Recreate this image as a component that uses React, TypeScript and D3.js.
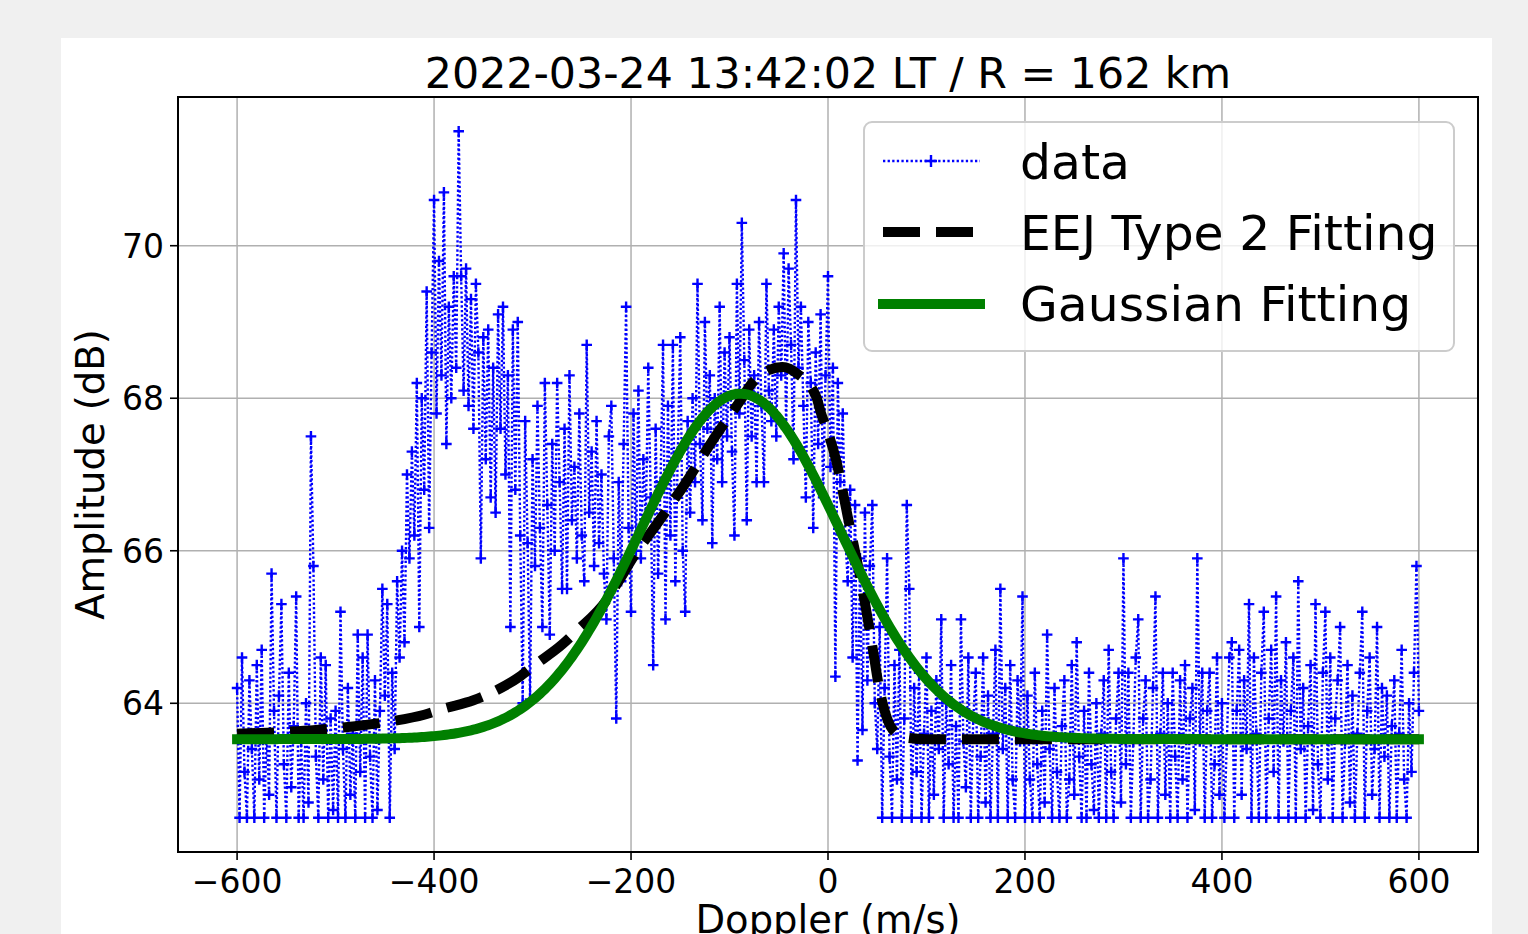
import React from "react";
import * as d3 from "d3";

const W = 1528;
const H = 934;

const titleText = "2022-03-24 13:42:02 LT / R = 162 km";
const xLabel = "Doppler (m/s)";
const yLabel = "Amplitude (dB)";
const legendLabels = ["data", "EEJ Type 2 Fitting", "Gaussian Fitting"];

const xTicks = [-600, -400, -200, 0, 200, 400, 600];
const yTicks = [64, 66, 68, 70];

const dopplerStart = -600;
const dopplerStep = 2.5;

// amplitude (dB) per Doppler bin, 100 m/s per segment
const ampM600 = [64.2, 62.5, 64.6, 63.1, 62.5, 64.3, 63.4, 62.5, 64.5, 63.0, 64.7, 62.5, 63.6, 62.8, 65.7, 63.9, 62.5, 64.1, 65.3, 63.2, 62.5, 64.4, 62.9, 63.7, 65.4, 62.5, 63.5, 62.5, 64.0, 62.7, 67.5, 65.8, 63.3, 62.5, 64.6, 63.0, 64.5, 62.5, 63.8, 62.6];
const ampM500 = [63.9, 62.5, 65.2, 63.4, 62.5, 64.2, 62.8, 63.6, 62.5, 64.9, 63.1, 64.6, 62.5, 64.9, 63.3, 62.5, 64.3, 62.6, 63.9, 65.5, 64.1, 65.3, 62.5, 64.4, 63.4, 65.6, 64.6, 66.0, 64.8, 67.0, 65.9, 67.3, 66.2, 68.2, 65.0, 68.0, 66.8, 69.4, 66.3, 68.6];
const ampM400 = [70.6, 67.8, 69.8, 68.3, 70.7, 67.4, 69.2, 68.0, 69.6, 68.4, 71.5, 69.6, 68.1, 69.7, 67.9, 69.3, 67.6, 69.5, 68.6, 65.9, 68.8, 67.2, 68.9, 66.7, 68.4, 66.5, 69.1, 67.6, 69.2, 67.0, 68.3, 65.0, 68.9, 66.8, 69.0, 66.2, 64.0, 67.7, 66.1, 64.05];
const ampM300 = [67.2, 65.8, 67.9, 66.3, 65.0, 68.2, 66.6, 64.9, 67.4, 66.0, 68.2, 66.9, 65.5, 67.6, 65.5, 68.3, 66.4, 67.1, 65.9, 67.8, 66.2, 65.6, 68.7, 66.5, 67.3, 65.8, 67.7, 66.1, 67.0, 65.7, 65.1, 67.5, 67.9, 65.9, 63.8, 66.9, 65.6, 67.4, 69.2, 66.3];
const ampM200 = [65.2, 67.8, 66.0, 68.1, 65.9, 67.2, 66.4, 68.4, 66.7, 64.5, 67.6, 65.7, 66.9, 68.7, 65.1, 67.9, 66.2, 68.7, 65.6, 67.3, 68.8, 66.0, 65.2, 67.7, 66.5, 68.0, 66.9, 69.5, 67.4, 66.4, 69.0, 67.6, 68.3, 66.1, 68.0, 67.2, 69.2, 66.9, 68.6, 67.5];
const ampM100 = [68.8, 67.3, 66.2, 69.5, 67.8, 70.3, 68.5, 66.4, 68.9, 67.5, 68.3, 66.9, 69.0, 67.9, 66.9, 69.5, 68.1, 67.7, 68.9, 67.5, 69.2, 68.3, 69.9, 67.6, 69.7, 68.7, 67.2, 70.6, 68.4, 69.2, 67.9, 66.7, 69.0, 68.2, 66.3, 68.6, 67.4, 69.1, 66.7, 68.3];
const ampP000 = [69.6, 67.1, 68.4, 64.35, 68.2, 66.9, 67.8, 66.2, 65.6, 66.8, 64.6, 66.6, 63.25, 65.9, 63.65, 66.5, 64.3, 65.8, 66.6, 64.0, 63.4, 65.0, 62.5, 64.2, 65.9, 63.3, 62.5, 64.5, 63.0, 64.7, 62.5, 63.8, 66.6, 65.5, 62.5, 64.2, 63.1, 64.4, 62.5, 63.6];
const ampP100 = [64.6, 62.5, 63.9, 62.8, 64.3, 63.4, 65.1, 62.5, 64.0, 63.2, 64.5, 62.5, 63.7, 62.5, 65.1, 63.5, 62.9, 64.6, 62.5, 63.8, 64.4, 62.5, 63.3, 64.6, 62.7, 64.1, 62.5, 63.6, 64.7, 62.5, 65.5, 63.4, 64.2, 62.5, 64.5, 63.0, 62.5, 64.3, 63.5, 65.4];
const ampP200 = [62.5, 64.1, 63.0, 62.5, 64.4, 63.2, 62.5, 63.9, 62.7, 64.9, 63.4, 62.5, 64.2, 63.1, 62.5, 63.7, 64.3, 62.5, 63.0, 64.5, 62.8, 64.8, 63.3, 62.5, 63.9, 62.5, 64.4, 63.2, 62.6, 64.0, 62.5, 63.6, 64.3, 62.5, 64.7, 63.1, 62.5, 63.8, 64.4, 62.7];
const ampP300 = [65.9, 63.2, 64.4, 62.5, 63.5, 64.6, 65.1, 62.5, 63.8, 64.3, 62.5, 63.0, 64.2, 65.4, 62.5, 63.6, 64.4, 62.8, 64.0, 62.5, 64.4, 63.3, 62.5, 64.3, 63.0, 64.5, 62.5, 63.8, 64.2, 62.6, 65.9, 63.5, 64.4, 62.5, 63.9, 64.4, 62.5, 63.2, 64.6, 62.8];
const ampP400 = [64.0, 62.5, 63.5, 64.6, 64.8, 62.5, 63.9, 64.7, 62.8, 64.3, 63.4, 65.3, 62.5, 64.6, 63.6, 62.5, 64.4, 65.2, 62.5, 63.8, 64.7, 63.1, 65.4, 62.5, 64.3, 63.5, 64.8, 62.5, 63.9, 64.6, 62.5, 65.6, 63.4, 64.2, 62.5, 63.7, 64.5, 62.6, 65.3, 63.2];
const ampP500 = [62.5, 64.4, 65.2, 63.0, 64.6, 62.5, 63.8, 64.3, 65.0, 62.5, 63.5, 64.5, 62.7, 64.1, 62.5, 63.6, 64.4, 65.2, 62.5, 63.9, 64.6, 62.8, 63.4, 65.0, 62.5, 64.2, 63.3, 64.1, 62.5, 63.7, 64.3, 62.5, 63.6, 64.7, 63.0, 62.5, 64.0, 63.1, 64.4, 65.8, 63.9];

const amplitude = [...ampM600, ...ampM500, ...ampM400, ...ampM300, ...ampM200, ...ampM100, ...ampP000, ...ampP100, ...ampP200, ...ampP300, ...ampP400, ...ampP500];
const doppler = amplitude.map((_, i) => dopplerStart + i * dopplerStep);

// EEJ Type 2 fitted curve
const eejDoppler = [-600, -560, -520, -480, -440, -410, -390, -360, -340, -313, -300, -270, -255, -225, -215, -196, -171, -144, -117, -90, -77, -60, -46, -31, -12, -7, 0, 8, 20, 35, 45, 52, 60, 68, 80, 100, 200, 600];
const eejAmp = [63.6, 63.62, 63.65, 63.7, 63.77, 63.85, 63.93, 64.04, 64.15, 64.35, 64.48, 64.77, 64.95, 65.35, 65.55, 65.95, 66.4, 66.9, 67.45, 67.95, 68.2, 68.37, 68.41, 68.32, 68.02, 67.8, 67.55, 67.2, 66.45, 65.5, 64.75, 64.2, 63.8, 63.62, 63.55, 63.53, 63.53, 63.53];

// Gaussian fit parameters
const gaussBase = 63.53;
const gaussAmp = 4.53;
const gaussCenter = -89;
const gaussSigma = 101;

const FONT = "'DejaVu Sans', sans-serif";

export default function App() {
  const left = 178, right = 1478, top = 97, bottom = 852;
  const x = d3.scaleLinear().domain([-660, 660]).range([left, right]);
  const y = d3.scaleLinear().domain([62.05, 71.95]).range([bottom, top]);

  const dataLine = d3.line<number>().x((_, i) => x(doppler[i])).y((v) => y(v))(amplitude) || "";
  const ms = 5.3;
  const markers = amplitude
    .map((v, i) => {
      const px = x(doppler[i]);
      const py = y(v);
      return `M${(px - ms).toFixed(2)},${py.toFixed(2)}h${2 * ms}M${px.toFixed(2)},${(py - ms).toFixed(2)}v${2 * ms}`;
    })
    .join("");

  const eejLine =
    d3.line<number>().x((d) => x(d)).y((_, i) => y(eejAmp[i])).curve(d3.curveMonotoneX)(eejDoppler) || "";
  const gaussVals = doppler.map((d) => gaussBase + gaussAmp * Math.exp(-((d - gaussCenter) ** 2) / (2 * gaussSigma ** 2)));
  const gaussLine = d3.line<number>().x((_, i) => x(doppler[i])).y((v) => y(v))(gaussVals) || "";

  const fmt = (v: number) => (v < 0 ? "\u2212" + Math.abs(v) : String(v));

  const lgX = 864, lgY = 122, lgW = 590, lgH = 229;
  const rows = [161, 232, 304];
  const textBase = [179, 250, 321];
  const dataStroke = 2.4;
  const dataDash = "2.3 2.3";

  return (
    <svg width={W} height={H} style={{ position: "absolute", left: 0, top: 0 }} fontFamily={FONT}>
      <rect x={0} y={0} width={W} height={H} fill="#f0f0f0" />
      <rect x={61} y={38} width={1431} height={H - 38} fill="#ffffff" />
      <defs>
        <clipPath id="plotclip">
          <rect x={left} y={top} width={right - left} height={bottom - top} />
        </clipPath>
      </defs>
      {/* grid */}
      {xTicks.map((t) => (
        <line key={"gx" + t} x1={x(t)} x2={x(t)} y1={top} y2={bottom} stroke="#b0b0b0" strokeWidth={1.5} />
      ))}
      {yTicks.map((t) => (
        <line key={"gy" + t} x1={left} x2={right} y1={y(t)} y2={y(t)} stroke="#b0b0b0" strokeWidth={1.5} />
      ))}
      <g clipPath="url(#plotclip)">
        <path d={dataLine} fill="none" stroke="#0000ff" strokeWidth={dataStroke} strokeDasharray={dataDash} />
        <path d={markers} fill="none" stroke="#0000ff" strokeWidth={dataStroke} />
        <path d={eejLine} fill="none" stroke="#000000" strokeWidth={10} strokeDasharray="37 16" />
        <path d={gaussLine} fill="none" stroke="#008000" strokeWidth={10} strokeLinecap="square" strokeLinejoin="round" />
      </g>
      {/* spines */}
      <rect x={left} y={top} width={right - left} height={bottom - top} fill="none" stroke="#000" strokeWidth={2} />
      {/* x ticks */}
      {xTicks.map((t) => (
        <g key={"xt" + t}>
          <line x1={x(t)} x2={x(t)} y1={bottom} y2={bottom + 8} stroke="#000" strokeWidth={1.6} />
          <text x={x(t)} y={893} fontSize={33} textAnchor="middle" fill="#000">
            {fmt(t)}
          </text>
        </g>
      ))}
      {yTicks.map((t) => (
        <g key={"yt" + t}>
          <line x1={left - 8} x2={left} y1={y(t)} y2={y(t)} stroke="#000" strokeWidth={1.6} />
          <text x={164} y={y(t) + 12} fontSize={33} textAnchor="end" fill="#000">
            {fmt(t)}
          </text>
        </g>
      ))}
      <text x={(left + right) / 2} y={88} fontSize={42.7} textAnchor="middle" fill="#000">
        {titleText}
      </text>
      <text x={(left + right) / 2} y={933} fontSize={38.5} textAnchor="middle" fill="#000">
        {xLabel}
      </text>
      <text
        transform={`translate(104,${(top + bottom) / 2}) rotate(-90)`}
        fontSize={38.5}
        textAnchor="middle"
        fill="#000"
      >
        {yLabel}
      </text>
      {/* legend */}
      <rect x={lgX} y={lgY} width={lgW} height={lgH} rx={8} fill="#ffffff" fillOpacity={0.8} stroke="#cccccc" strokeWidth={2} />
      <line x1={883} x2={980} y1={rows[0]} y2={rows[0]} stroke="#0000ff" strokeWidth={dataStroke} strokeDasharray={dataDash} />
      <path d={`M${931 - 6},${rows[0]}h12M931,${rows[0] - 6}v12`} stroke="#0000ff" strokeWidth={dataStroke} />
      <line x1={883} x2={980} y1={rows[1]} y2={rows[1]} stroke="#000" strokeWidth={10} strokeDasharray="37 16" />
      <line x1={883} x2={980} y1={rows[2]} y2={rows[2]} stroke="#008000" strokeWidth={10} strokeLinecap="square" />
      {legendLabels.map((l, i) => (
        <text key={l} x={1020} y={textBase[i]} fontSize={48.8} fill="#000">
          {l}
        </text>
      ))}
    </svg>
  );
}
